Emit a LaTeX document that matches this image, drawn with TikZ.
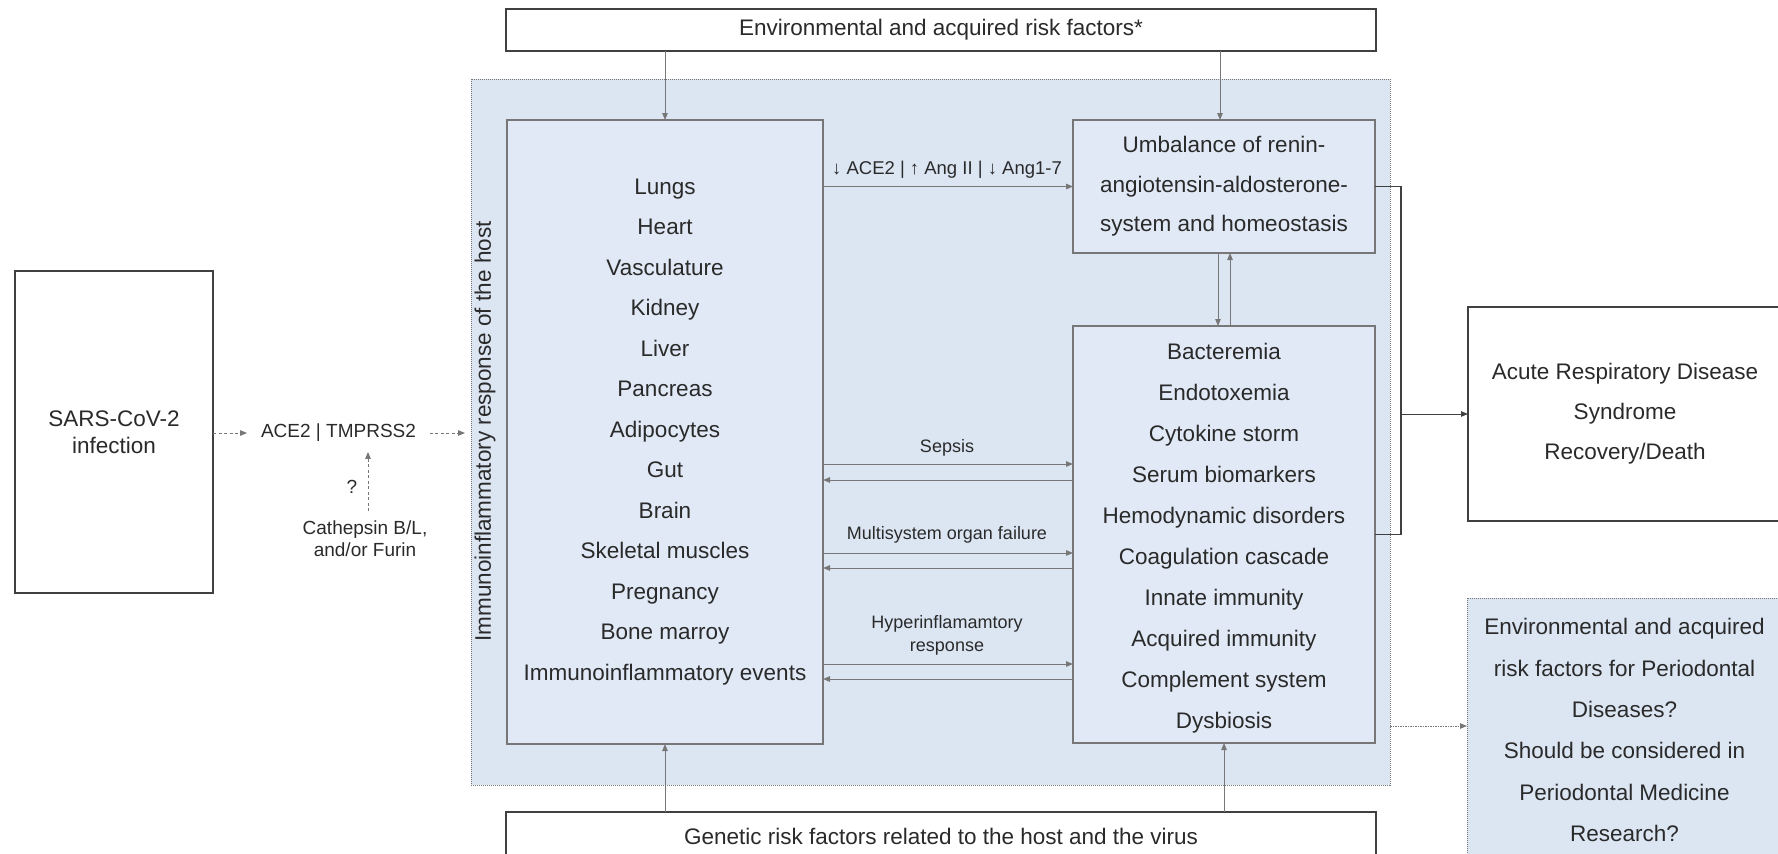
\documentclass[tikz,border=0pt]{standalone}
\usepackage{fontspec}
\setmainfont{Liberation Sans}
\usetikzlibrary{arrows.meta}
\definecolor{txt}{HTML}{2A2A2A}
\definecolor{ln}{HTML}{777777}
\definecolor{dk}{HTML}{404040}
\definecolor{bluefill}{HTML}{DCE6F3}
\definecolor{innerfill}{HTML}{E0E9F5}
\begin{document}
\begin{tikzpicture}[x=1pt,y=-1pt,
  every node/.style={text=txt, inner sep=0pt, outer sep=0pt},
  big/.style={font=\fontsize{22.5}{40.5}\selectfont, align=center},
  small/.style={font=\fontsize{18}{23}\selectfont, align=center},
  mid/.style={font=\fontsize{19}{22}\selectfont, align=center},
  wbox/.style={draw=dk, line width=1.1pt, fill=white},
  ibox/.style={draw=ln, line width=1.1pt, fill=innerfill},
  outerbox/.style={draw=ln, line width=1pt, densely dotted, fill=bluefill},
  arr/.style={draw=ln, line width=1pt, -{Triangle[length=7pt,width=5.5pt]}},
  darr/.style={draw=ln, line width=1pt, dash pattern=on 3pt off 2.5pt, -{Triangle[length=7pt,width=5.5pt]}},
  dotarr/.style={draw=ln, line width=1pt, dash pattern=on 1.5pt off 1pt, -{Triangle[length=7pt,width=5.5pt]}},
  brk/.style={draw=dk, line width=1.1pt}
]
\useasboundingbox (0,0) rectangle (1778,854);

% outer immunoinflammatory region
\node[outerbox, minimum width=919pt, minimum height=706pt] (outer) at (930.5,432) {};
\node[big, rotate=90] (vlab) at (485,431.5) {Immunoinflammatory response of the host};

% top and bottom boxes
\node[wbox, minimum width=870pt, minimum height=42pt, big] (top) at (941,30) {Environmental and acquired risk factors*};
\node[wbox, minimum width=870pt, minimum height=48pt, big] (gen) at (941,836) {Genetic risk factors related to the host and the virus};

% inner boxes
\node[ibox, minimum width=316pt, minimum height=624pt, big] (left) at (665,432)
  {Lungs\\Heart\\Vasculature\\Kidney\\Liver\\Pancreas\\Adipocytes\\Gut\\Brain\\Skeletal muscles\\Pregnancy\\Bone marroy\\Immunoinflammatory events};
\node[ibox, minimum width=302pt, minimum height=133pt, big, font=\fontsize{22.5}{39.5}\selectfont] (umb) at (1224,186.5)
  {Umbalance of renin-\\angiotensin-aldosterone-\\system and homeostasis};
\node[ibox, minimum width=302pt, minimum height=417pt] (right) at (1224,534.5) {};
\node[big, font=\fontsize{22.5}{41}\selectfont] (rlist) at (1224,538)
  {Bacteremia\\Endotoxemia\\Cytokine storm\\Serum biomarkers\\Hemodynamic disorders\\Coagulation cascade\\Innate immunity\\Acquired immunity\\Complement system\\Dysbiosis};

% left side
\node[wbox, minimum width=198pt, minimum height=322pt, big, font=\fontsize{22.5}{27}\selectfont] (sars) at (114,432) {SARS-CoV-2\\infection};
\node[mid, inner xsep=14pt, inner ysep=4pt] (ace) at (338.5,433) {ACE2 | TMPRSS2};
\node[mid] (cath) at (365,539) {Cathepsin B/L,\\and/or Furin};
\node[mid] (q) at (352,487) {?};

% right side boxes
\node[draw=dk, line width=1.1pt, fill=white, minimum width=314pt, minimum height=214pt, big, font=\fontsize{22.5}{40}\selectfont] (ards) at (1625,414)
  {Acute Respiratory Disease\\Syndrome\\Recovery/Death};
\node[draw=ln, line width=1pt, densely dotted, fill=bluefill, minimum width=315pt, minimum height=264pt, big, font=\fontsize{22.5}{41.3}\selectfont] (perio) at (1624.5,730)
  {Environmental and acquired\\risk factors for Periodontal\\Diseases?\\Should be considered in\\Periodontal Medicine\\Research?};

% connector labels
\node[font=\fontsize{18.5}{22}\selectfont] (acelab) at (947,170) {↓ ACE2 | ↑ Ang II | ↓ Ang1-7};
\node[small] (seplab) at (947,448) {Sepsis};
\node[small] (mulab) at (947,535) {Multisystem organ failure};
\node[small] (hylab) at (947,635.5) {Hyperinflamamtory\\response};

% connectors
\draw[arr] (left.north |- top.south) -- (left.north);
\draw[arr] ([xshift=-4pt]umb.north |- top.south) -- ([xshift=-4pt]umb.north);
\draw[arr] (left.south |- gen.north) -- (left.south);
\draw[arr] (right.south |- gen.north) -- (right.south);

\draw[arr] (left.east |- umb.west) -- (umb.west);
\draw[arr] ([xshift=-6pt]umb.south) -- ([xshift=-6pt]right.north);
\draw[arr] ([xshift=6pt]right.north) -- ([xshift=6pt]umb.south);

\draw[arr] ([yshift=70.5pt]right.west -| left.east) -- ([yshift=70.5pt]right.west);
\draw[arr] ([yshift=54.5pt]right.west) -- ([yshift=54.5pt]right.west -| left.east);
\draw[arr] ([yshift=-18.5pt]right.west -| left.east) -- ([yshift=-18.5pt]right.west);
\draw[arr] ([yshift=-33.5pt]right.west) -- ([yshift=-33.5pt]right.west -| left.east);
\draw[arr] ([yshift=-129.5pt]right.west -| left.east) -- ([yshift=-129.5pt]right.west);
\draw[arr] ([yshift=-144.5pt]right.west) -- ([yshift=-144.5pt]right.west -| left.east);

\draw[brk] (umb.east) -- ++(26,0) coordinate (b1) |- (right.east);
\draw[arr, draw=dk] (ards.west -| b1) -- (ards.west);
\draw[dotarr] ([yshift=4pt]perio.west -| outer.east) -- ([yshift=4pt]perio.west);

\draw[darr] (sars.east |- ace.west) -- (ace.west);
\draw[darr, shorten >=6pt] (ace.east) -- (ace.east -| outer.west);
\draw[darr, shorten >=6pt] ([xshift=3pt,yshift=10pt]cath.north) -- ([xshift=3pt]cath.north |- ace.south);
\end{tikzpicture}
\end{document}
